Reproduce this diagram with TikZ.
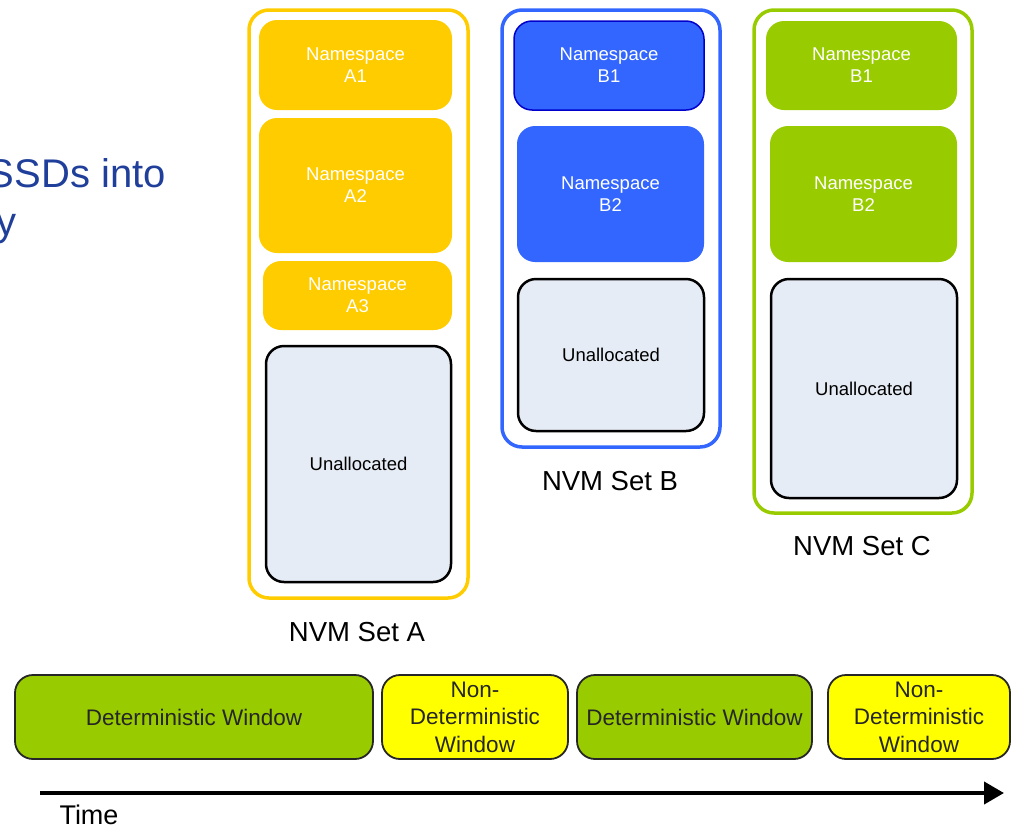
\documentclass[tikz,border=0pt]{standalone}
\usepackage{fontspec}
\setmainfont{Liberation Sans}
\usetikzlibrary{arrows.meta}
\definecolor{setyellow}{HTML}{FFCC00}
\definecolor{setblue}{HTML}{3366FF}
\definecolor{setgreen}{HTML}{99CC00}
\definecolor{darkblue}{HTML}{0000CC}
\definecolor{freefill}{HTML}{E6ECF5}
\definecolor{winyellow}{HTML}{FFFF00}
\definecolor{titleblue}{HTML}{1F3F9A}
\tikzset{
	setbox/.style={draw, line width=3.5pt, rounded corners=20pt, inner sep=0},
	nsbox/.style={rounded corners=18pt, text=white, font=\fontsize{18.5}{22}\selectfont, align=center, inner sep=0},
	freebox/.style={draw=black, line width=2.5pt, fill=freefill, rounded corners=18pt, font=\fontsize{18.5}{22}\selectfont, inner sep=0},
	setlabel/.style={font=\fontsize{27.5}{33}\selectfont},
	winbox/.style={draw=black!85, line width=1.8pt, rounded corners=18pt, align=center, inner sep=0, text=black!85, font=\fontsize{22.5}{27.5}\selectfont}
}
\begin{document}
\begin{tikzpicture}[x=1pt, y=-1pt]
			\useasboundingbox (0,0) rectangle (1012,828);
			% title, cut at the left edge
			\begin{scope}
				\clip (0,0) rectangle (1012,828);
				\node[anchor=base east, inner sep=0, text=titleblue, font=\fontsize{40}{46}\selectfont] (title1) at (166,187) {SSDs into};
				\node[anchor=base west, inner sep=0, text=titleblue, font=\fontsize{40}{46}\selectfont] (title2) at (-4,235) {y};
			\end{scope}
			% NVM set A
			\node[setbox, draw=setyellow, minimum width=219, minimum height=588] (setA) at (358.5,304) {};
			\node[nsbox, fill=setyellow, minimum width=193, minimum height=90] (nsA1) at (355.5,65) {Namespace\\A1};
			\node[nsbox, fill=setyellow, minimum width=193, minimum height=135] (nsA2) at (355.5,185.5) {Namespace\\A2};
			\node[nsbox, fill=setyellow, minimum width=189, minimum height=69] (nsA3) at (357.5,295.5) {Namespace\\A3};
			\node[freebox, minimum width=185, minimum height=236] (freeA) at (358.5,464) {Unallocated};
			\node[setlabel] (labelA) at (357,632) {NVM Set A};
			% NVM set B
			\node[setbox, draw=setblue, minimum width=218, minimum height=437] (setB) at (611,228.5) {};
			\node[nsbox, fill=setblue, draw=darkblue, line width=1.5pt, minimum width=190, minimum height=89] (nsB1) at (609,65.5) {Namespace\\B1};
			\node[nsbox, fill=setblue, minimum width=187, minimum height=136] (nsB2) at (610.5,194) {Namespace\\B2};
			\node[freebox, minimum width=186, minimum height=152] (freeB) at (611,355) {Unallocated};
			\node[setlabel] (labelB) at (610,481) {NVM Set B};
			% NVM set C
			\node[setbox, draw=setgreen, minimum width=218, minimum height=503] (setC) at (863,261.5) {};
			\node[nsbox, fill=setgreen, minimum width=191, minimum height=89] (nsC1) at (861.5,65.5) {Namespace\\B1};
			\node[nsbox, fill=setgreen, minimum width=187, minimum height=136] (nsC2) at (863.5,194) {Namespace\\B2};
			\node[freebox, minimum width=186, minimum height=219] (freeC) at (864,388.5) {Unallocated};
			\node[setlabel] (labelC) at (862,546) {NVM Set C};
			% windows
			\node[winbox, fill=setgreen, minimum width=358, minimum height=84] (dw1) at (194,717) {Deterministic Window};
			\node[winbox, fill=winyellow, minimum width=186, minimum height=84] (ndw1) at (475,717) {Non-\\Deterministic\\Window};
			\node[winbox, fill=setgreen, minimum width=235, minimum height=84] (dw2) at (694.5,717) {Deterministic Window};
			\node[winbox, fill=winyellow, minimum width=182, minimum height=84] (ndw2) at (919,717) {Non-\\Deterministic\\Window};
			% time axis
			\coordinate (t0) at (40,793);
			\coordinate (t1) at (1004,793);
			\draw[line width=4pt, -{Triangle[length=20pt, width=22pt]}] (t0) -- (t1);
			\node[anchor=base, inner sep=0, font=\fontsize{27}{32}\selectfont] (time) at (89,824) {Time};
		\end{tikzpicture}
\end{document}
